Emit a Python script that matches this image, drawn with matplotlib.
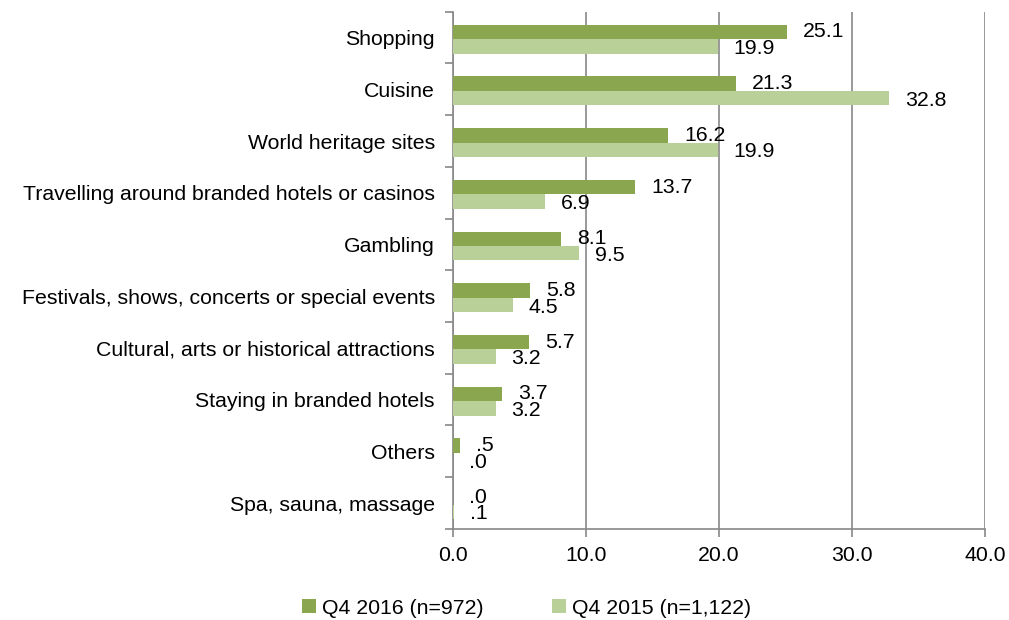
import numpy as np
from matplotlib import pyplot as plt

plt.rcParams['font.family'] = ['Liberation Sans', 'DejaVu Sans']

categories = ['Shopping', 'Cuisine', 'World heritage sites',
              'Travelling around branded hotels or casinos', 'Gambling',
              'Festivals, shows, concerts or special events',
              'Cultural, arts or historical attractions',
              'Staying in branded hotels', 'Others', 'Spa, sauna, massage']
q4_2016 = [25.1, 21.3, 16.2, 13.7, 8.1, 5.8, 5.7, 3.7, 0.5, 0.0]
q4_2015 = [19.9, 32.8, 19.9, 6.9, 9.5, 4.5, 3.2, 3.2, 0.0, 0.1]
x_ticks = [0, 10, 20, 30, 40]


def fmt(v):
    s = f'{v:.1f}'
    return s[1:] if s.startswith('0') else s


fs = 15.3
fig = plt.figure(figsize=(10.09, 6.2), dpi=100)
ax = fig.add_axes([0.449, 0.147, 0.527, 0.834])

y = np.arange(len(categories)) + 0.03
h = 0.28
dark = '#8aa64f'
light = '#b9d098'

ax.barh(y - h / 2, q4_2016, height=h, color=dark, label='Q4 2016 (n=972)', zorder=3)
ax.barh(y + h / 2, q4_2015, height=h, color=light, label='Q4 2015 (n=1,122)', zorder=3)

for yi, v in zip(y, q4_2016):
    ax.text(v + 1.2, yi - h / 2, fmt(v), va='center', ha='left', fontsize=fs, zorder=4)
for yi, v in zip(y, q4_2015):
    ax.text(v + 1.2, yi + h / 2 + 0.04, fmt(v), va='center', ha='left', fontsize=fs, zorder=4)

ax.set_ylim(len(categories) - 0.5, -0.5)
ax.set_xlim(0, 40)
ax.set_xticks(x_ticks)
ax.set_xticklabels([f'{t:.1f}' for t in x_ticks], fontsize=fs)
ax.set_yticks(np.arange(len(categories)))
ax.set_yticklabels(categories, fontsize=fs)
ax.set_yticks(np.arange(len(categories) + 1) - 0.5, minor=True)

ax.tick_params(axis='y', which='major', length=0, pad=13)
ax.tick_params(axis='y', which='minor', length=6, color='#888888', width=1.2)
ax.tick_params(axis='x', length=6, color='#888888', width=1.2, pad=6)

ax.grid(axis='x', color='#888888', linewidth=1.2, zorder=0)
for side in ['top', 'right']:
    ax.spines[side].set_visible(False)
for side in ['left', 'bottom']:
    ax.spines[side].set_color('#888888')
    ax.spines[side].set_linewidth(1.2)

fig.legend(loc='lower center', bbox_to_anchor=(0.522, -0.027), ncol=2, frameon=False,
           fontsize=fs, handlelength=0.65, handleheight=0.65, handletextpad=0.3,
           columnspacing=3.2)

plt.savefig('out.png')
